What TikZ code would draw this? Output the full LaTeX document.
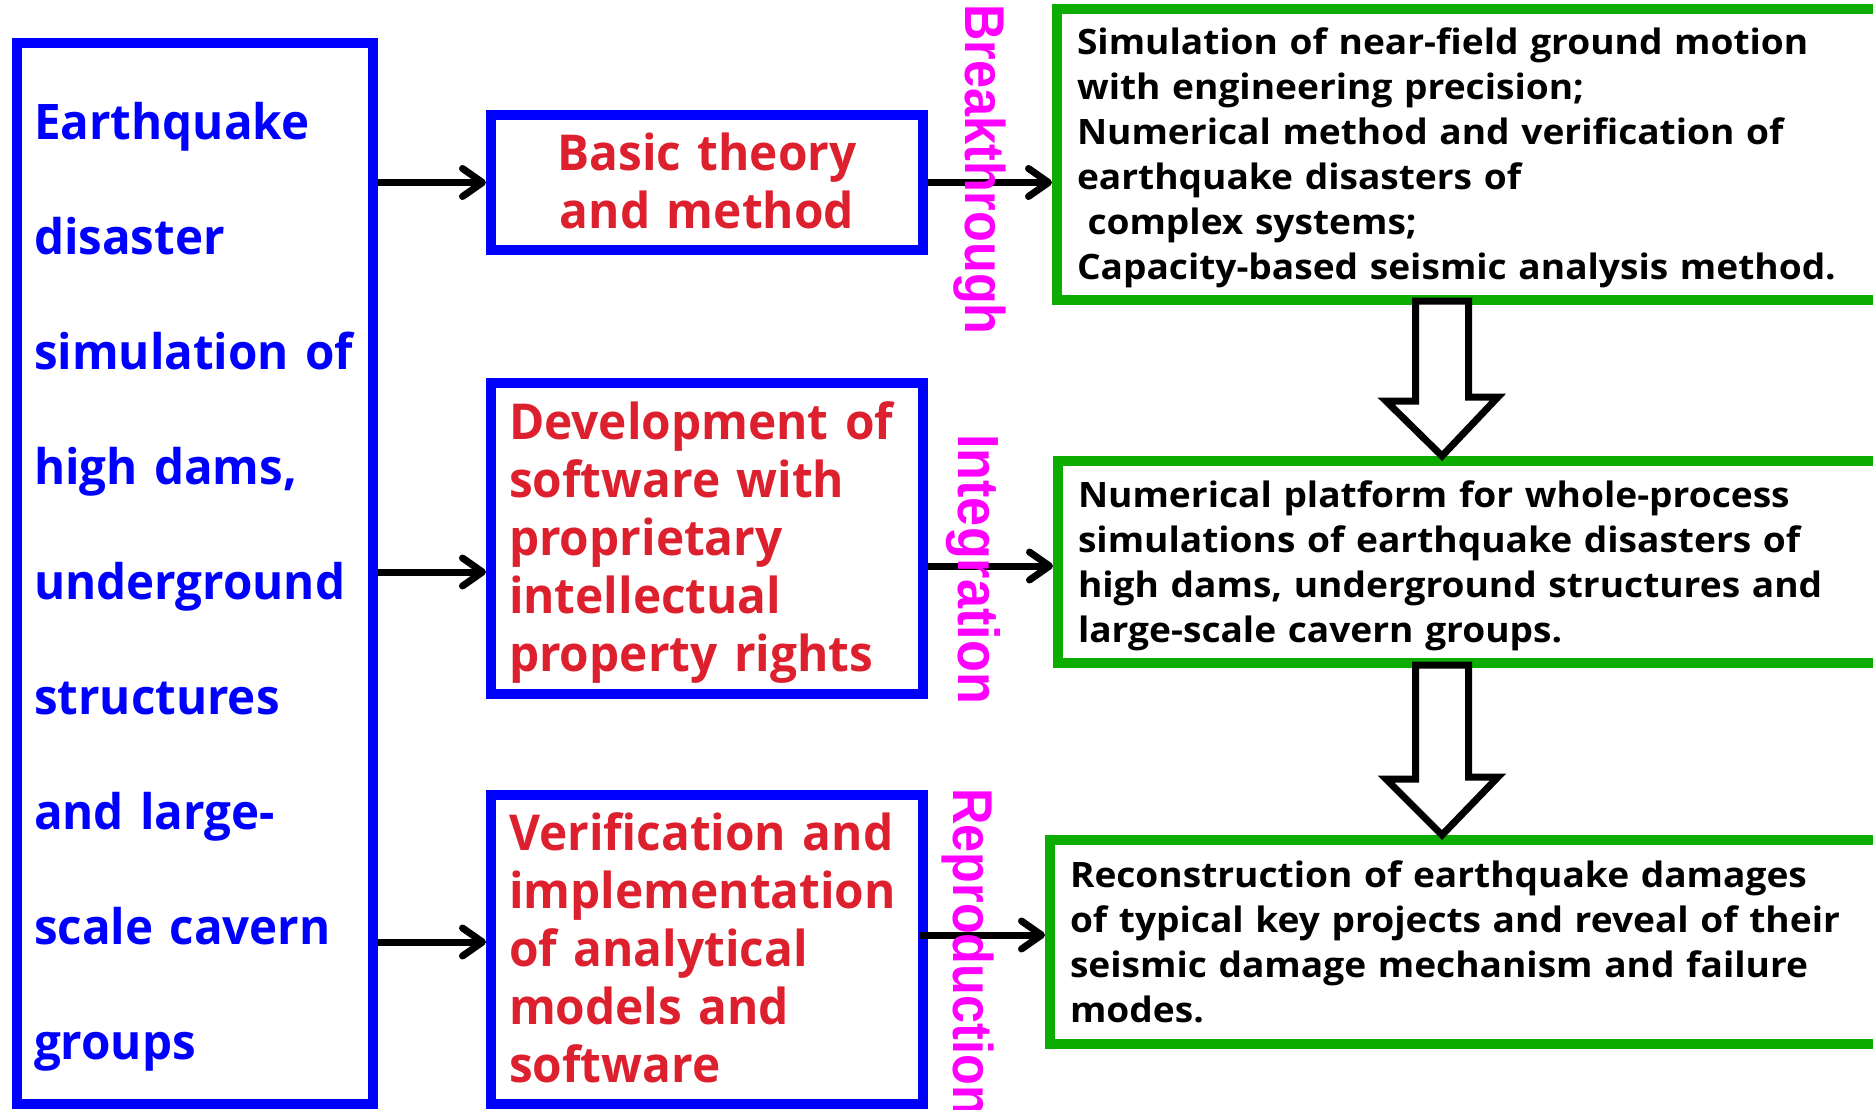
\documentclass[tikz,border=0pt]{standalone}
\usepackage{fontspec}
\setmainfont{Open Sans}
\newfontfamily\bluefont{Open Sans}[FakeStretch=0.97]
\newfontfamily\redfont{Open Sans}[FakeStretch=0.965]
\newfontfamily\blackfont{Open Sans}[FakeStretch=1.06]
\newfontfamily\magfont{Liberation Sans}[FakeStretch=0.9]
\usetikzlibrary{arrows.meta}

\definecolor{boxblue}{RGB}{0,0,255}
\definecolor{boxred}{RGB}{221,32,46}
\definecolor{boxgreen}{RGB}{12,173,0}
\definecolor{labmag}{RGB}{255,0,255}

\tikzset{
  bluebox/.style={draw=boxblue, line width=10pt, inner xsep=18pt, inner ysep=0pt, align=left},
  greenbox/.style={draw=boxgreen, line width=10pt, inner xsep=20pt, inner ysep=0pt, align=left,
    minimum width=1000pt, text width=960pt, font=\blackfont\bfseries\fontsize{35}{45}\selectfont},
  redtext/.style={text=boxred, font=\redfont\bfseries\fontsize{49.5}{58}\selectfont},
  sidelabel/.style={text=labmag, inner sep=0pt, anchor=base west, rotate=-90,
    font=\magfont\bfseries\fontsize{56}{60}\selectfont},
  arr/.style={line width=7pt, -{Straight Barb[length=20pt,width=28pt,round]}},
  hollowarr/.style={draw=black, fill=white, line width=7pt}
}

\begin{document}
\begin{tikzpicture}[x=1pt,y=-1pt]
    \useasboundingbox (0,0) rectangle (1873,1109);
    \clip (0,0) rectangle (1873,1109);

    % 左侧总框
    \node[bluebox, text=boxblue, inner xsep=17pt, minimum width=356pt, text width=322pt,
          text height=96pt, text depth=965pt,
          font=\bluefont\bfseries\fontsize{49}{115}\selectfont] (lbox) at (195,573.5)
          {Earthquake\\disaster\\simulation of\\high dams,\\underground\\structures\\and large-\\scale cavern\\groups};

    % 中间三个框
    \node[bluebox, redtext, align=center, minimum width=432pt, text width=396pt,
          text height=55pt, text depth=80pt] (theory) at (707,182.5)
          {Basic theory\\and method};
    \node[bluebox, redtext, minimum width=432pt, text width=396pt,
          text height=56pt, text depth=255pt] (software) at (707,538.5)
          {Development of\\software with\\proprietary\\intellectual\\property rights};
    \node[bluebox, redtext, minimum width=432pt, text width=396pt,
          text height=55pt, text depth=254pt] (verify) at (707,949.5)
          {Verification and\\implementation\\of analytical\\models and\\software};

    % 右侧三个绿框
    \node[greenbox, text height=45pt, text depth=246pt] (nearfield) at (1557,154.5)
          {Simulation of near-field ground motion\\with engineering precision;\\Numerical method and verification of\\earthquake disasters of\\\hspace*{0.3em}complex systems;\\Capacity-based seismic analysis method.};
    \node[greenbox, text height=46pt, text depth=156pt] (platform) at (1558,562)
          {Numerical platform for whole-process\\simulations of earthquake disasters of\\high dams, underground structures and\\large-scale cavern groups.};
    \node[greenbox, text height=47pt, text depth=157pt] (rebuild) at (1550,942)
          {Reconstruction of earthquake damages\\of typical key projects and reveal of their\\seismic damage mechanism and failure\\modes.};

    % 箭头：左框 -> 中间框
    \coordinate (ain2) at ([yshift=-33.5pt]software.west);
    \coordinate (ain3) at ([yshift=7.5pt]verify.west);
    \draw[arr] (theory.west -| lbox.east) -- (theory.west);
    \draw[arr] (ain2 -| lbox.east) -- (ain2);
    \draw[arr] (ain3 -| lbox.east) -- (ain3);

    % 箭头：中间框 -> 绿框
    \coordinate (aout2) at ([yshift=-27.5pt]software.east);
    \coordinate (aout3) at ([yshift=14.5pt]verify.east);
    \draw[arr] (theory.east) -- (theory.east -| nearfield.west);
    \draw[arr] (aout2) -- (aout2 -| platform.west);
    \draw[arr] ([xshift=-8pt]aout3) -- (aout3 -| rebuild.west);

    % 空心大箭头
    \coordinate (axis) at (1442,0);
    \draw[hollowarr] (nearfield.south -| axis) ++(-26.5,-4) -- ++(53,0) -- ++(0,96)
        -- ++(29.5,0) -- (platform.north -| axis) -- ++(-56,-55) -- ++(29.5,0) -- cycle;
    \draw[hollowarr] (platform.south -| axis) ++(-26.5,-3) -- ++(53,0) -- ++(0,112)
        -- ++(29.5,0) -- (rebuild.north -| axis) -- ++(-56,-56) -- ++(29.5,0) -- cycle;

    % 竖排标签
    \node[sidelabel] (brk) at (965,4) {Breakthrough};
    \node[sidelabel, font=\magfont\bfseries\fontsize{58}{60}\selectfont] (intg) at (958,434) {Integration};
    \node[sidelabel] (repr) at (953,788) {Reproduction};

\end{tikzpicture}
\end{document}
